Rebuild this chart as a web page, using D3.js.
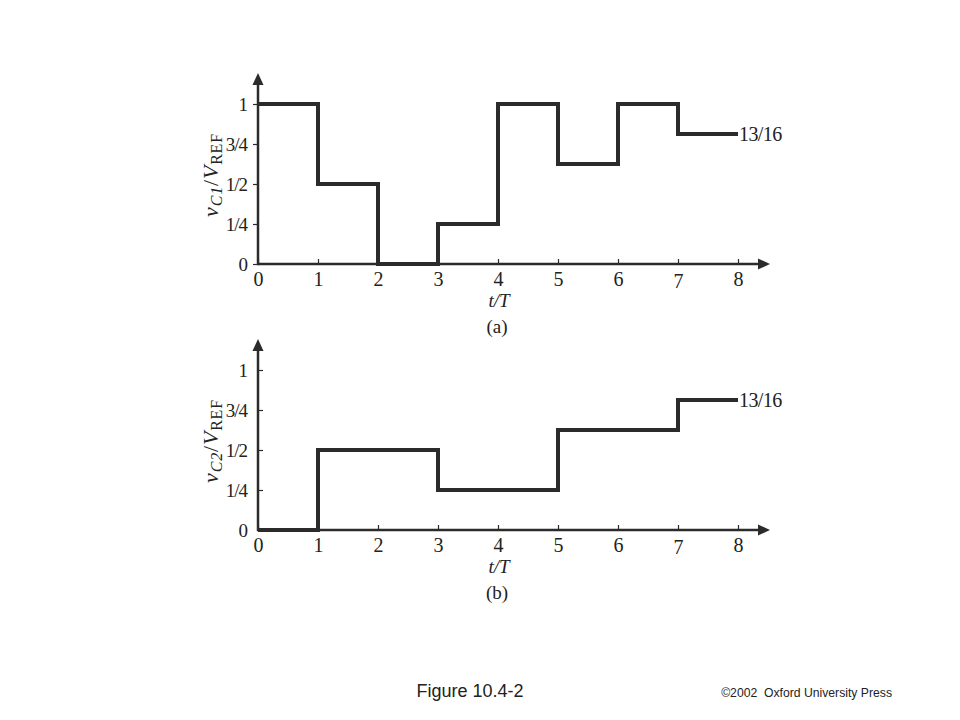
<!DOCTYPE html>
<html><head><meta charset="utf-8">
<script src="https://cdn.jsdelivr.net/npm/d3@7"></script>
<style>
body{margin:0;background:#fff;}
svg{display:block;}
text{font-family:"Liberation Serif","DejaVu Serif",serif;fill:#222;}
</style></head>
<body>
<svg id="chart" width="960" height="720"></svg>
<script>
// ---- data ----
const tValues = [0,1,2,3,4,5,6,7,8];
const vc1 = [1, 0.5, 0, 0.25, 1, 0.625, 1, 0.8125, 0.8125];
const vc2 = [0, 0.5, 0.5, 0.25, 0.25, 0.625, 0.625, 0.8125, 0.8125];
const xTicks = [0,1,2,3,4,5,6,7,8];
const yTickValues = [0, 0.25, 0.5, 0.75, 1];
const yTickLabels = ["0","1/4","1/2","3/4","1"];
const endLabel = "13/16";
const panels = [
  {values: vc1, sub: "C1", tag: "(a)", y0: 264, yTick: 5},
  {values: vc2, sub: "C2", tag: "(b)", y0: 530, yTick: -5}
];

const svg = d3.select("#chart");
const ink = "#2b2b2b";
const x = d3.scaleLinear().domain([0,8]).range([258,738]);

panels.forEach(p => {
  const y = d3.scaleLinear().domain([0,1]).range([p.y0, p.y0-160]);
  const g = svg.append("g");

  // x axis
  const xAxis = d3.axisBottom(x).tickValues(xTicks).tickFormat(d3.format("d"))
    .tickSizeInner(-5).tickSizeOuter(0).tickPadding(7.5);
  const gx = g.append("g").attr("transform",`translate(0,${p.y0})`).call(xAxis);
  gx.select(".domain").remove();
  gx.selectAll(".tick line").attr("stroke",ink).attr("stroke-width",1.2);
  gx.selectAll(".tick text").attr("font-size",20).attr("fill","#222")
    .attr("font-family","Liberation Serif")
    .attr("dy", d => d===7 ? "0.84em" : "0.71em");

  // y axis
  const yAxis = d3.axisLeft(y).tickValues(yTickValues).tickFormat((d,i)=>yTickLabels[i])
    .tickSizeInner(p.yTick).tickSizeOuter(0).tickPadding(p.yTick > 0 ? 6 : 11);
  const gy = g.append("g").attr("transform",`translate(${x(0)},0)`).call(yAxis);
  gy.select(".domain").remove();
  gy.selectAll(".tick line").attr("stroke",ink).attr("stroke-width",1.2);
  gy.selectAll(".tick text").attr("font-size",19).attr("fill","#222")
    .attr("font-family","Liberation Serif").attr("letter-spacing",-1);

  // axis lines with arrows
  const xEnd = 770, yTop = y(1) - 31;
  g.append("line").attr("x1",x(0)).attr("x2",xEnd-8).attr("y1",p.y0).attr("y2",p.y0)
    .attr("stroke",ink).attr("stroke-width",2.5);
  g.append("path").attr("d",`M${xEnd},${p.y0} L${xEnd-12},${p.y0-5.5} L${xEnd-12},${p.y0+5.5} Z`).attr("fill",ink);
  g.append("line").attr("x1",x(0)).attr("x2",x(0)).attr("y1",p.y0+1.2).attr("y2",yTop+8)
    .attr("stroke",ink).attr("stroke-width",2.5);
  g.append("path").attr("d",`M${x(0)},${yTop} L${x(0)-5.5},${yTop+12} L${x(0)+5.5},${yTop+12} Z`).attr("fill",ink);

  // step curve
  const line = d3.line().x((d,i)=>x(tValues[i])).y(d=>y(d)).curve(d3.curveStepAfter);
  g.append("path").datum(p.values).attr("d",line)
    .attr("fill","none").attr("stroke",ink).attr("stroke-width",4)
    .attr("stroke-linejoin","miter").attr("stroke-linecap","butt");

  // end label
  g.append("text").attr("x",x(8)+1).attr("y",y(p.values[p.values.length-1])+7)
    .attr("font-size",20).attr("letter-spacing",-0.6).text(endLabel);

  // y label
  const yl = g.append("text")
    .attr("transform",`translate(218,${p.y0-89}) rotate(-90)`)
    .attr("text-anchor","middle").attr("font-size",22).attr("letter-spacing",0.8);
  yl.append("tspan").attr("font-style","italic").text("v");
  yl.append("tspan").attr("font-style","italic").attr("font-size",16).attr("dy",3.5).text(p.sub);
  yl.append("tspan").attr("dy",-3.5).text("/");
  yl.append("tspan").attr("font-style","italic").text("V");
  yl.append("tspan").attr("font-size",16).attr("dy",3.5).text("REF");

  // x label
  g.append("text").attr("x",499).attr("y",p.y0+43)
    .attr("text-anchor","middle").attr("font-size",19).attr("font-style","italic").text("t/T");
  g.append("text").attr("x",497).attr("y",p.y0+69)
    .attr("text-anchor","middle").attr("font-size",19).text(p.tag);
});

svg.append("text").attr("x",470).attr("y",697).attr("text-anchor","middle")
  .attr("font-size",18).style("font-family","Liberation Sans, Arial, sans-serif").attr("fill","#000")
  .text("Figure 10.4-2");
svg.append("text").attr("x",892).attr("y",697).attr("text-anchor","end")
  .attr("font-size",12.2).style("font-family","Liberation Sans, Arial, sans-serif").attr("fill","#222")
  .attr("xml:space","preserve").text("©2002  Oxford University Press");
</script>
</body></html>
